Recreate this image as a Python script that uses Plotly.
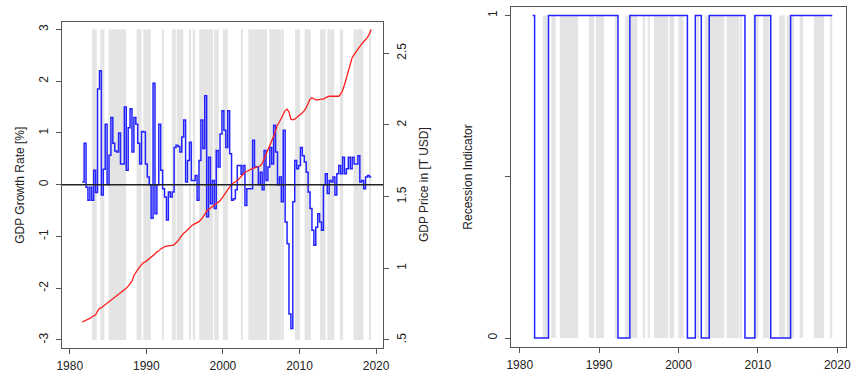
import plotly.graph_objects as go

# ---------------- data ----------------
start_year = 1981.625   # first quarter plotted
step = 0.25             # quarterly

growth = [
    0.05, 0.8, -0.05, -0.3, -0.05, -0.3, 0.28, -0.15, 1.85, 2.2,
    -0.2, 0.3, 1.17, 0.0, 0.57, 1.3, 0.8, 0.65, 0.63, 1.0,
    0.4, 0.4, 1.5, 0.28, 1.1, 1.47, 0.63, 1.3, 1.17, 0.8,
    0.4, 1.03, 1.02, 0.4, 0.15, 0.0, -0.65, 1.96, -0.56, 0.0,
    1.17, 0.28, -0.08, -0.24, -0.68, -0.14, -0.24, -0.14, 0.72, 0.76,
    0.74, 0.63, 0.92, 1.25, 0.05, 0.47, 0.82, 0.08, 0.08, 0.18,
    -0.3, 0.47, 1.25, 0.7, 1.72, -0.62, 0.53, -0.37, 0.08, -0.46,
    0.66, 0.34, 0.98, 1.43, 1.05, 0.72, 1.43, 0.6, -0.3, -0.27,
    -0.1, 0.37, 0.37, 0.2, 0.37, -0.4, -0.08, -0.08, -0.08, 0.86,
    0.34, 0.34, 0.0, 0.24, -0.1, 0.66, 0.08, 0.34, 0.72, 0.4,
    1.15, 0.63, 0.0, 0.15, -0.33, 1.05, -0.72, -1.14, -2.5, -2.78,
    -0.33, 0.47, 0.31, 0.37, 0.72, 0.56, 0.44, 0.24, -0.14, -0.46,
    -0.88, -1.17, -0.82, -0.56, -0.72, -0.88, 0.0, 0.21, -0.17, 0.08,
    0.05, 0.15, -0.2, 0.21, 0.37, 0.21, 0.53, 0.21, 0.31, 0.53,
    0.31, 0.53, 0.4, 0.4, 0.56, 0.05, 0.08, -0.08, 0.15, 0.18,
    0.15, 0.15,
]

price = [
    0.625, 0.63, 0.64, 0.645, 0.65, 0.66, 0.67, 0.675, 0.70, 0.72,
    0.725, 0.735, 0.745, 0.76, 0.77, 0.78, 0.79, 0.80, 0.81, 0.82,
    0.83, 0.84, 0.85, 0.86, 0.875, 0.89, 0.91, 0.95, 0.975, 0.99,
    1.01, 1.025, 1.04, 1.045, 1.055, 1.065, 1.075, 1.09, 1.10, 1.115,
    1.12, 1.135, 1.145, 1.15, 1.155, 1.155, 1.16, 1.16, 1.165, 1.175,
    1.19, 1.21, 1.23, 1.245, 1.255, 1.27, 1.285, 1.295, 1.305, 1.31,
    1.315, 1.325, 1.34, 1.355, 1.375, 1.40, 1.41, 1.42, 1.43, 1.44,
    1.445, 1.455, 1.47, 1.49, 1.51, 1.53, 1.55, 1.57, 1.585, 1.595,
    1.60, 1.61, 1.625, 1.64, 1.66, 1.67, 1.675, 1.685, 1.69, 1.695,
    1.70, 1.705, 1.71, 1.715, 1.73, 1.76, 1.80, 1.83, 1.86, 1.88,
    1.92, 1.96, 2.0, 2.02, 2.05, 2.08, 2.10, 2.11, 2.09, 2.04,
    2.035, 2.04, 2.05, 2.06, 2.07, 2.085, 2.10, 2.12, 2.15, 2.18,
    2.19, 2.18, 2.175, 2.175, 2.18, 2.18, 2.18, 2.19, 2.195, 2.20,
    2.20, 2.205, 2.205, 2.20, 2.20, 2.215, 2.24, 2.28, 2.33, 2.39,
    2.44, 2.47, 2.49, 2.51, 2.53, 2.55, 2.565, 2.58, 2.595, 2.61,
    2.635, 2.665,
]

recession = [
    1, 0, 0, 0, 0, 0, 0, 0, 1, 1,
    1, 1, 1, 1, 1, 1, 1, 1, 1, 1,
    1, 1, 1, 1, 1, 1, 1, 1, 1, 1,
    1, 1, 1, 1, 1, 1, 1, 1, 1, 1,
    1, 1, 1, 0, 0, 0, 0, 0, 0, 1,
    1, 1, 1, 1, 1, 1, 1, 1, 1, 1,
    1, 1, 1, 1, 1, 1, 1, 1, 1, 1,
    1, 1, 1, 1, 1, 1, 1, 1, 0, 0,
    0, 0, 1, 1, 1, 0, 0, 0, 0, 1,
    1, 1, 1, 1, 1, 1, 1, 1, 1, 1,
    1, 1, 1, 1, 1, 1, 1, 0, 0, 0,
    0, 0, 1, 1, 1, 1, 1, 1, 1, 1,
    0, 0, 0, 0, 0, 0, 0, 0, 0, 0,
    1, 1, 1, 1, 1, 1, 1, 1, 1, 1,
    1, 1, 1, 1, 1, 1, 1, 1, 1, 1,
    1, 1,
]

# shaded periods (start, end in decimal years)
shade_start = [1982.92, 1983.99, 1985.06, 1988.72, 1989.60, 1992.04, 1993.33, 1993.96,
               1995.62, 1996.12, 1996.90, 1998.86, 2000.00, 2002.36, 2003.32, 2006.07,
               2007.82, 2009.42, 2010.66, 2012.68, 2013.63, 2015.26, 2017.06, 2019.16]
shade_end = [1983.52, 1984.52, 1987.36, 1989.38, 1990.60, 1992.20, 1993.85, 1994.82,
             1995.80, 1996.38, 1998.70, 1999.45, 2000.64, 2002.55, 2005.78, 2007.66,
             2007.96, 2010.08, 2011.48, 2013.41, 2014.55, 2015.70, 2018.35, 2019.36]

year_ticks = [1980, 1990, 2000, 2010, 2020]
growth_ticks = [-3, -2, -1, 0, 1, 2, 3]
growth_labels = ["-3", "-2", "-1", "0", "1", "2", "3"]
price_ticks = [0.5, 1, 1.5, 2, 2.5]
price_labels = [".5", "1", "1.5", "2", "2.5"]
rec_ticks = [0, 0.5, 1]
rec_labels = ["0", "", "1"]

# ---------------- figure ----------------
dates = [start_year + step * i for i in range(len(growth))]
mid = [(a + b) / 2 for a, b in zip(shade_start, shade_end)]
wid = [b - a for a, b in zip(shade_start, shade_end)]

FONT = "Liberation Sans, Arial, sans-serif"
TXT = "#222222"
AX = "#555555"
SHADE = "#e4e4e4"
BLUE = "rgb(35,35,255)"
RED = "rgb(255,30,30)"

fig = go.Figure()

fig.add_trace(go.Bar(x=mid, width=wid, y=[6] * len(mid), base=-3,
                     marker=dict(color=SHADE, line=dict(width=0)),
                     xaxis="x", yaxis="y", showlegend=False, hoverinfo="skip"))
fig.add_trace(go.Scatter(x=dates, y=growth, mode="lines", line=dict(color=BLUE, width=1.5, shape="hv"),
                         xaxis="x", yaxis="y", showlegend=False))
fig.add_trace(go.Scatter(x=dates, y=price, mode="lines", line=dict(color=RED, width=1.3),
                         xaxis="x", yaxis="y2", showlegend=False))

fig.add_trace(go.Bar(x=mid, width=wid, y=[1] * len(mid), base=0,
                     marker=dict(color=SHADE, line=dict(width=0)),
                     xaxis="x2", yaxis="y3", showlegend=False, hoverinfo="skip"))
fig.add_trace(go.Scatter(x=dates, y=recession, mode="lines", line=dict(color=BLUE, width=1.5, shape="hv"),
                         xaxis="x2", yaxis="y3", showlegend=False))

tickfont = dict(family=FONT, size=12, color=TXT)
common = dict(showgrid=False, zeroline=False, showline=True, linecolor=AX, linewidth=1,
              ticks="outside", ticklen=5, tickwidth=1, tickcolor=AX, tickfont=tickfont)

fig.update_layout(
    width=861, height=376,
    margin=dict(l=0, r=0, t=0, b=0),
    paper_bgcolor="white", plot_bgcolor="white",
    barmode="overlay",
    xaxis=dict(domain=[0.0670, 0.4452], range=[1978.97, 2020.9], tickvals=year_ticks,
               mirror=True, anchor="y", ticklabelstandoff=2, **common),
    yaxis=dict(domain=[0.0753, 0.9423], range=[-3.15, 3.15], tickvals=growth_ticks,
               ticktext=growth_labels, tickangle=-90, anchor="x", ticklabelstandoff=3, **common),
    yaxis2=dict(range=[0.446, 2.72], tickvals=price_ticks, ticktext=price_labels,
                overlaying="y", side="right", anchor="x", tickangle=-90, ticklabelstandoff=3, **common),
    xaxis2=dict(domain=[0.5958, 0.9911], range=[1978.88, 2021.16], tickvals=year_ticks,
                mirror=True, anchor="y3", ticklabelstandoff=2, **common),
    yaxis3=dict(domain=[0.0779, 0.9814], range=[-0.027, 1.026], tickvals=rec_ticks, ticktext=rec_labels,
                tickangle=-90, anchor="x2", mirror=True, ticklabelstandoff=3, **common),
    shapes=[dict(type="line", xref="x domain", x0=0, x1=1, yref="y", y0=0, y1=0,
                 line=dict(color="#222222", width=1.6), layer="above")],
    annotations=[
        dict(text="GDP Growth Rate [%]", xref="paper", yref="paper", x=15 / 861, y=0.508,
             textangle=-90, showarrow=False, font=dict(family=FONT, size=12, color=TXT),
             xanchor="center", yanchor="middle"),
        dict(text="GDP Price in [T USD]", xref="paper", yref="paper", x=425 / 861, y=0.508,
             textangle=-90, showarrow=False, font=dict(family=FONT, size=12, color=TXT),
             xanchor="center", yanchor="middle"),
        dict(text="Recession Indicator", xref="paper", yref="paper", x=469.5 / 861, y=0.530,
             textangle=-90, showarrow=False, font=dict(family=FONT, size=12, color=TXT),
             xanchor="center", yanchor="middle"),
    ],
)

fig.write_html("out.html")
